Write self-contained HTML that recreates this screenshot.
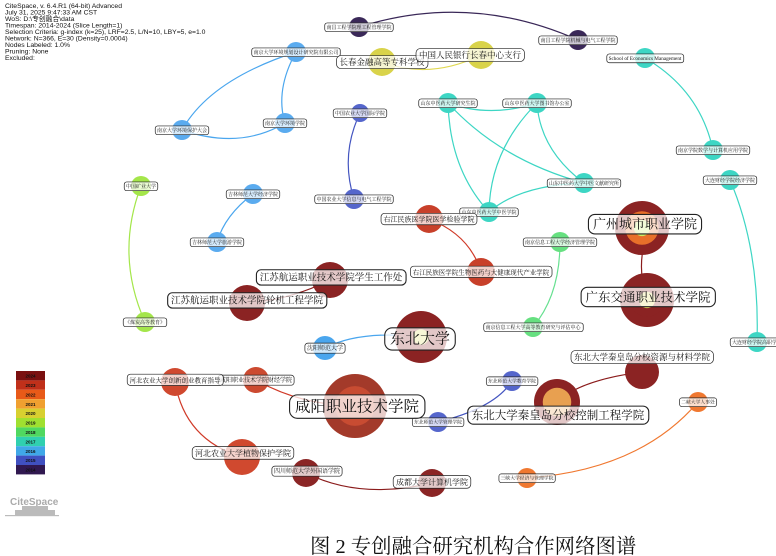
<!DOCTYPE html>
<html><head><meta charset="utf-8">
<style>
html,body{margin:0;padding:0;background:#fff;}
svg{display:block;}
.hd{font-family:"Liberation Sans",sans-serif;font-size:6.8px;fill:#111;}
.lb{font-family:"Liberation Serif","Noto Serif CJK SC","Noto Sans CJK SC",serif;fill:#111;}
</style></head>
<body>
<svg id="s" width="776" height="556" viewBox="0 0 776 556" xmlns="http://www.w3.org/2000/svg">
<g class="hd">
<text x="5" y="8">CiteSpace, v. 6.4.R1 (64-bit) Advanced</text>
<text x="5" y="14.5">July 31, 2025 9:47:33 AM CST</text>
<text x="5" y="21">WoS: D:\专创融合\data</text>
<text x="5" y="27.5">Timespan: 2014-2024 (Slice Length=1)</text>
<text x="5" y="34">Selection Criteria: g-index (k=25), LRF=2.5, L/N=10, LBY=5, e=1.0</text>
<text x="5" y="40.5">Network: N=366, E=30 (Density=0.0004)</text>
<text x="5" y="47">Nodes Labeled: 1.0%</text>
<text x="5" y="53.5">Pruning: None</text>
<text x="5" y="60">Excluded:</text>
</g>
<g fill="none" stroke-width="1.2">
<path d="M359,27 Q470,-8 578,40" stroke="#3a2858"/>
<path d="M382,62 Q430,80 481,55" stroke="#e0d850"/>
<path d="M296,52 Q210,80 182,130" stroke="#4aa6ee"/>
<path d="M296,52 Q275,90 285,123" stroke="#4aa6ee"/>
<path d="M182,130 Q240,150 285,123" stroke="#4aa6ee"/>
<path d="M360,113 Q340,155 354,199" stroke="#4455c0"/>
<path d="M448,103 Q490,118 537,103" stroke="#3dd6c4"/>
<path d="M448,103 Q450,170 489,212" stroke="#3dd6c4"/>
<path d="M448,103 Q500,160 584,183" stroke="#3dd6c4"/>
<path d="M537,103 Q490,150 489,212" stroke="#3dd6c4"/>
<path d="M537,103 Q540,150 584,183" stroke="#3dd6c4"/>
<path d="M489,212 Q520,185 584,183" stroke="#3dd6c4"/>
<path d="M645,58 Q700,90 713,150" stroke="#3dd6c4"/>
<path d="M730,180 Q760,250 757,342" stroke="#3dd6c4"/>
<path d="M141,186 Q115,255 145,322" stroke="#a4e64a"/>
<path d="M253,194 Q225,215 217,242" stroke="#4aa6ee"/>
<path d="M429,219 Q470,235 481,272" stroke="#d03a28"/>
<path d="M560,242 Q560,295 533,327" stroke="#66e090"/>
<path d="M645,240 Q637,270 647,300" stroke="#8b1c1c"/>
<path d="M330,280 Q290,300 247,303" stroke="#8b1c1c"/>
<path d="M325,348 Q360,330 421,337" stroke="#4aa6ee"/>
<path d="M642,372 Q580,380 557,402" stroke="#8b1c1c"/>
<path d="M512,381 Q495,408 438,422" stroke="#4455c0"/>
<path d="M256,380 Q300,405 355,406" stroke="#d03a28"/>
<path d="M175,382 Q185,440 242,457" stroke="#d03a28"/>
<path d="M306,473 Q360,500 432,483" stroke="#8b1c1c"/>
<path d="M698,402 Q640,470 527,478" stroke="#f07830"/>
</g>
<g id="nodes"></g>
<g id="labels"></g>
<g font-family="Liberation Sans,sans-serif" font-size="4.5" font-weight="bold" text-anchor="middle" fill="#111">
<rect x="16" y="371" width="29" height="9.4" fill="#7a1010"/><text x="30.5" y="377.5">2024</text>
<rect x="16" y="380.4" width="29" height="9.4" fill="#c0301a"/><text x="30.5" y="387">2023</text>
<rect x="16" y="389.8" width="29" height="9.4" fill="#e85a18"/><text x="30.5" y="396.4">2022</text>
<rect x="16" y="399.2" width="29" height="9.4" fill="#f0a030"/><text x="30.5" y="405.8">2021</text>
<rect x="16" y="408.6" width="29" height="9.4" fill="#d8d030"/><text x="30.5" y="415.2">2020</text>
<rect x="16" y="418" width="29" height="9.4" fill="#a0e030"/><text x="30.5" y="424.6">2019</text>
<rect x="16" y="427.4" width="29" height="9.4" fill="#50d860"/><text x="30.5" y="434">2018</text>
<rect x="16" y="436.8" width="29" height="9.4" fill="#30d0b0"/><text x="30.5" y="443.4">2017</text>
<rect x="16" y="446.2" width="29" height="9.4" fill="#40a8e8"/><text x="30.5" y="452.8">2016</text>
<rect x="16" y="455.6" width="29" height="9.4" fill="#4050c0"/><text x="30.5" y="462.2">2015</text>
<rect x="16" y="465" width="29" height="9.4" fill="#301850"/><text x="30.5" y="471.6">2014</text>
</g>
<g fill="#bbb">
<text x="10" y="505" font-family="Liberation Sans,sans-serif" font-size="10" font-weight="bold" fill="#aaa">CiteSpace</text>
<rect x="15" y="510" width="40" height="5"/><rect x="22" y="506" width="26" height="4"/>
<rect x="5" y="515" width="54" height="1.2"/>
</g>
<text x="310" y="553" font-family="Liberation Serif,'Noto Serif CJK SC',serif" font-size="20.4" fill="#111">图 2 专创融合研究机构合作网络图谱</text>
</svg>
<script>
var N=[
[359,27,10,['#3a2858'],'南昌工程学院理工程管理学院',5],
[578,40,10,['#3a2858'],'南昌工程学院机械与电气工程学院',5],
[296,52,10,['#5aabef'],'南京大学环境规划设计研究院有限公司',5],
[382,62,14,['#d9d34a'],'长春金融高等专科学校',8.5],
[481,55,14,['#d9d34a'],'中国人民银行长春中心支行',8.5,470],
[645,58,10,['#3dd6c4'],'School of Economics Management',5.2],
[182,130,10,['#5aabef'],'南京大学环境保护大会',5],
[285,123,10,['#5aabef'],'南京大学环境学院',5],
[360,113,9,['#5566cc'],'中国农业大学国际学院',5],
[448,103,10,['#3dd6c4'],'山东中医药大学研究生院',5],
[537,103,10,['#3dd6c4'],'山东中医药大学图书馆办公室',5],
[584,183,10,['#3dd6c4'],'山东中医药大学中医文献研究所',5],
[489,212,10,['#3dd6c4'],'山东中医药大学中医学院',5],
[713,150,10,['#3dd6c4'],'南京学院数学与计算机应用学院',5],
[730,180,10,['#3dd6c4'],'大连财经学院经济学院',5],
[757,342,10,['#3dd6c4'],'大连财经学院高职学院',5],
[141,186,10,['#a4e64a'],'中国矿业大学',5],
[145,322,10,['#a4e64a'],'《煤炭高等教育》',5],
[253,194,10,['#5aabef'],'吉林师范大学经济学院',5],
[217,242,10,['#5aabef'],'吉林师范大学旅游学院',5],
[354,199,10,['#5566cc'],'中国农业大学信息与电气工程学院',5],
[429,219,14,['#c8402a'],'右江民族医学院医学检验学院',7],
[481,272,14,['#c8402a'],'右江民族医学院生物医药与大健康现代产业学院',6.5],
[560,242,10,['#66e080'],'南京信息工程大学经济管理学院',5],
[533,327,10,['#66e080'],'南京信息工程大学高等教育研究与评估中心',5],
[642,228,27,['#8b2323','#e8702a','#c8ee66'],'广州城市职业学院',13,645,224],
[647,300,27,['#8b2323','#8b2323','#e8e060'],'广东交通职业技术学院',12.5,648,297],
[330,280,18,['#8b2323'],'江苏航运职业技术学院学生工作处',9.5,331,277],
[247,303,18,['#8b2323'],'江苏航运职业技术学院轮机工程学院',9.5,247,300],
[421,337,26,['#8b2323','#8b2323','#e0e060'],'东北大学',15,420,338],
[325,348,12,['#4aa6ee'],'沈阳师范大学',6],
[642,372,17,['#8b2323'],'东北大学秦皇岛分校资源与材料学院',8.5,642,357],
[557,402,23,['#8b2323','#e8a050'],'东北大学秦皇岛分校控制工程学院',11.5,558,415],
[512,381,10,['#5566cc'],'东北师范大学教育学院',4.8],
[438,422,10,['#5566cc'],'东北师范大学管理学院',4.8],
[355,406,32,['#a33a2a','#c84c32'],'咸阳职业技术学院',15.5,357,406],
[256,380,13,['#cc4a30'],'咸阳职业技术学院财经学院',6],
[175,382,14,['#d0492f'],'河北农业大学创新创业教育指导',6.5,175,380],
[242,457,18,['#d0492f'],'河北农业大学植物保护学院',8,243,453],
[306,473,14,['#8b2525'],'四川师范大学外国语学院',6,307,471],
[432,483,14,['#8b2525'],'成都大学计算机学院',8,432,482],
[698,402,10,['#f07830'],'二峡大学人事处',4.8],
[527,478,10,['#f07830'],'三峡大学经济与管理学院',4.8]
];
var ns='http://www.w3.org/2000/svg',G=document.getElementById('nodes'),L=document.getElementById('labels');
function el(t,a,p){var e=document.createElementNS(ns,t);for(var k in a)e.setAttribute(k,a[k]);p.appendChild(e);return e;}
N.forEach(function(n){
 var c=n[3];
 el('circle',{cx:n[0],cy:n[1],r:n[2],fill:c[0]},G);
 if(c[1])el('circle',{cx:n[0],cy:n[1],r:n[2]*0.62,fill:c[1]},G);
 if(c[2])el('circle',{cx:n[0],cy:n[1],r:n[2]*0.3,fill:c[2]},G);
 var lx=n[6]||n[0],ly=n[7]||n[1],fs=n[5];
 var t=el('text',{x:lx,y:ly+fs*0.36,'font-size':fs,'text-anchor':'middle','class':'lb'},L);
 t.textContent=n[4];
 var b=t.getBBox(),p=fs*0.35;
 var r=el('rect',{x:b.x-p,y:b.y-p*0.5,width:b.width+2*p,height:b.height+p,rx:fs*0.5,fill:'rgba(255,255,255,0.75)',stroke:'#222','stroke-width':fs>9?1.1:0.7},L);
 L.insertBefore(r,t);
});
</script>
</body></html>
